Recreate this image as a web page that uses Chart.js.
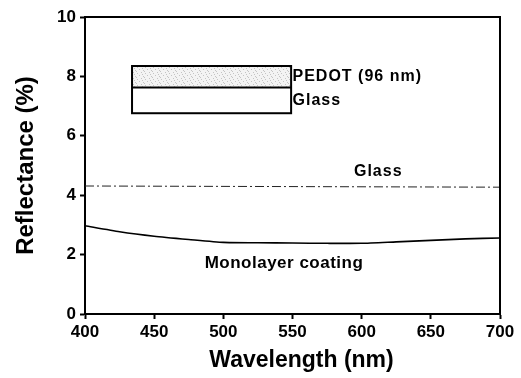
<!DOCTYPE html>
<html>
<head>
<meta charset="utf-8">
<script src="https://cdn.jsdelivr.net/npm/chart.js@4.4.1/dist/chart.umd.min.js"></script>
<style>
  html, body { margin: 0; padding: 0; background: #fff; }
  #wrap { width: 521px; height: 378px; }
</style>
</head>
<body>
<div id="wrap"><canvas id="c" width="521" height="378"></canvas></div>
<script>
// ---- data ----
const wavelengths = [400, 425, 450, 475, 500, 525, 550, 575, 600, 625, 650, 675, 700];
const monolayer   = [2.97, 2.77, 2.62, 2.51, 2.41, 2.40, 2.39, 2.38, 2.38, 2.43, 2.48, 2.53, 2.56];
const glassWl     = [400, 700];
const glass       = [4.31, 4.27];
const xTicks = [400, 450, 500, 550, 600, 650, 700];
const yTicks = [0, 2, 4, 6, 8, 10];

// inset (layer sketch) in data coordinates
const insetX = [434, 549];
const insetY = [6.76, 7.63, 8.35]; // bottom, interface, top

const FONT = '"Liberation Sans", Arial, sans-serif';
const X_TITLE = 'Wavelength (nm)';

function pts(xs, ys) { return xs.map((x, i) => ({ x: x, y: ys[i] })); }

// stipple pattern for PEDOT layer
function makePattern(ctx) {
  const pc = document.createElement('canvas');
  pc.width = 8; pc.height = 6;
  const p = pc.getContext('2d');
  p.fillStyle = '#f3f3f3';
  p.fillRect(0, 0, 8, 6);
  p.fillStyle = '#c4c4c4';
  [[1,1],[5,0],[3,3],[7,4],[0,5],[6,2]].forEach(d => p.fillRect(d[0], d[1], 1, 1));
  return ctx.createPattern(pc, 'repeat');
}

const decor = {
  id: 'decor',
  afterDatasetsDraw(chart) {
    const ctx = chart.ctx;
    const xs = chart.scales.x, ys = chart.scales.y;
    const a = chart.chartArea;
    ctx.save();
    // frame (top & right)
    ctx.strokeStyle = '#000';
    ctx.lineWidth = 2;
    ctx.beginPath();
    ctx.moveTo(a.left, a.top);
    ctx.lineTo(a.right, a.top);
    ctx.lineTo(a.right, a.bottom);
    ctx.stroke();

    // inset
    const x0 = xs.getPixelForValue(insetX[0]), x1 = xs.getPixelForValue(insetX[1]);
    const yb = ys.getPixelForValue(insetY[0]), ym = ys.getPixelForValue(insetY[1]), yt = ys.getPixelForValue(insetY[2]);
    ctx.fillStyle = makePattern(ctx);
    ctx.fillRect(x0, yt, x1 - x0, ym - yt);
    ctx.lineWidth = 2;
    ctx.strokeRect(x0, yt, x1 - x0, yb - yt);
    ctx.beginPath();
    ctx.moveTo(x0, ym); ctx.lineTo(x1, ym); ctx.stroke();

    // labels
    ctx.fillStyle = '#000';
    ctx.textBaseline = 'middle';
    ctx.textAlign = 'left';
    ctx.font = 'bold 16px ' + FONT;
    ctx.letterSpacing = '1px';
    ctx.fillText('PEDOT (96 nm)', xs.getPixelForValue(550), ys.getPixelForValue(7.98));
    ctx.fillText('Glass', xs.getPixelForValue(550), ys.getPixelForValue(7.17));
    ctx.textAlign = 'center';
    ctx.fillText('Glass', xs.getPixelForValue(612), ys.getPixelForValue(4.78));
    ctx.textAlign = 'left';
    ctx.letterSpacing = '0.5px';
    ctx.font = 'bold 17px ' + FONT;
    ctx.fillText('Monolayer coating', xs.getPixelForValue(486.5), ys.getPixelForValue(1.70));

    // x-axis title (offset to the right of the axis centre, as in the source figure)
    ctx.letterSpacing = '0px';
    ctx.textAlign = 'center';
    ctx.font = 'bold 23px ' + FONT;
    ctx.fillText(X_TITLE, xs.getPixelForValue(556.5), chart.height - 17);
    ctx.restore();
  }
};

new Chart(document.getElementById('c'), {
  type: 'line',
  data: {
    datasets: [
      {
        label: 'Glass',
        data: pts(glassWl, glass),
        borderColor: '#222',
        borderWidth: 1,
        borderDash: [9, 3, 2, 3],
        pointRadius: 0,
        fill: false
      },
      {
        label: 'Monolayer coating',
        data: pts(wavelengths, monolayer),
        borderColor: '#000',
        borderWidth: 1.6,
        pointRadius: 0,
        tension: 0.2,
        fill: false
      }
    ]
  },
  options: {
    responsive: false,
    animation: false,
    devicePixelRatio: 1,
    layout: { padding: { top: 17, right: 21, left: 0, bottom: 0 } },
    plugins: { legend: { display: false }, tooltip: { enabled: false } },
    scales: {
      x: {
        type: 'linear',
        min: 400, max: 700,
        afterBuildTicks: s => { s.ticks = xTicks.map(v => ({ value: v })); },
        afterFit: s => { s.height = 64; },
        border: { display: true, color: '#000', width: 2 },
        grid: { drawOnChartArea: false, drawTicks: true, tickLength: 5, tickColor: '#000', tickWidth: 2 },
        ticks: { color: '#000', padding: 3, font: { family: FONT, size: 17, weight: 'bold' }, maxRotation: 0 },
        title: { display: false, text: X_TITLE }
      },
      y: {
        min: 0, max: 10,
        afterBuildTicks: s => { s.ticks = yTicks.map(v => ({ value: v })); },
        afterFit: s => { s.width = 85; },
        border: { display: true, color: '#000', width: 2 },
        grid: { drawOnChartArea: false, drawTicks: true, tickLength: 5, tickColor: '#000', tickWidth: 2 },
        ticks: { color: '#000', padding: 4, font: { family: FONT, size: 17, weight: 'bold' } },
        title: { display: true, text: 'Reflectance (%)', color: '#000', padding: { top: 12, bottom: 0 },
                 font: { family: FONT, size: 24, weight: 'bold' } }
      }
    }
  },
  plugins: [decor]
});
</script>
</body>
</html>
